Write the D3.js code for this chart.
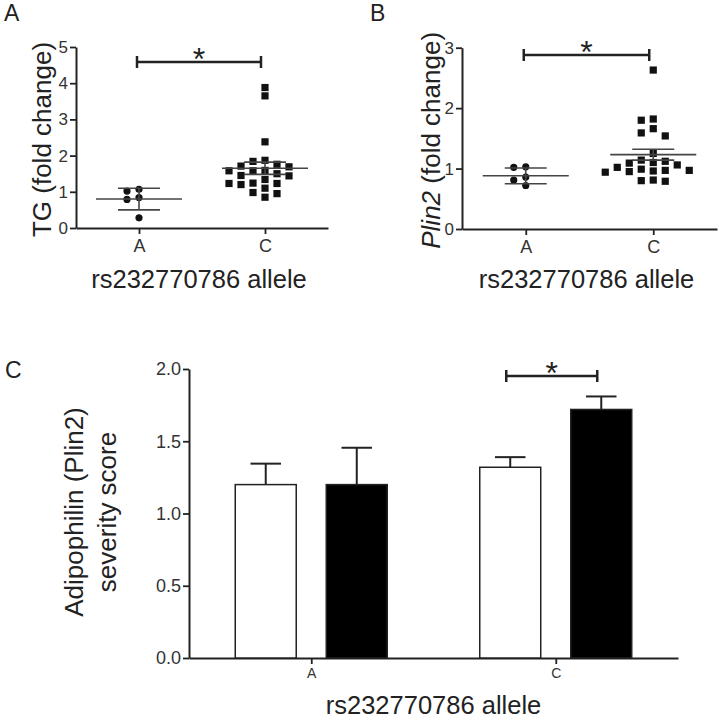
<!DOCTYPE html>
<html>
<head>
<meta charset="utf-8">
<script src="https://cdn.jsdelivr.net/npm/d3@7"></script>
<style>
  body { margin: 0; background: #fff; }
  svg { display: block; font-family: "Liberation Sans", Arial, sans-serif; }
</style>
</head>
<body>
<svg id="chart" width="720" height="718"></svg>
<script>
// Values
const alleles = ["A", "C"];

// Panel A - TG fold change, one value per sample
const tgA = [1.07, 1.02, 0.84, 0.79, 0.28];
const tgC = [3.88, 3.65, 2.38, 1.87, 1.84, 1.76, 1.71, 1.69, 1.59, 1.58, 1.58, 1.50,
             1.45, 1.44, 1.34, 1.24, 1.23, 1.23, 1.20, 1.10, 0.98, 0.95, 0.85];
const tgMean = [0.80, 1.65];
const tgErr = [0.30, 0.17];
const tgTicks = [0, 1, 2, 3, 4, 5];

// Panel B - Plin2 fold change
const plinA = [1.03, 1.02, 0.86, 0.81, 0.72];
const plinC = [2.63, 1.82, 1.80, 1.66, 1.59, 1.54, 1.25, 1.14, 1.12, 1.10, 1.09,
               1.06, 1.02, 0.99, 0.97, 0.97, 0.96, 0.95, 0.94, 0.81, 0.80, 0.79];
const plinMean = [0.88, 1.23];
const plinErr = [0.13, 0.09];
const plinTicks = [0, 1, 2, 3];

// Panel C - adipophilin severity score (open vs filled bars)
const barSeries = ["open", "filled"];
const scoreOpen = [1.20, 1.32];
const scoreFilled = [1.20, 1.72];
const errOpen = [0.145, 0.07];
const errFilled = [0.255, 0.09];
const scoreTicks = [0, 0.5, 1.0, 1.5, 2.0];

const svg = d3.select("#chart");
const ink = "#222";

// greedy beeswarm: push points sideways until they no longer overlap
function swarm(values, y, step, size) {
    const placed = [];
    const pts = values.map(v => ({ v: v, py: y(v) })).sort((a, b) => a.py - b.py);
    const offsets = [0];
    for (let k = 1; k < 12; k++) offsets.push(-k * step / 2, k * step / 2);
    pts.forEach(p => {
        for (const dx of offsets) {
            const hit = placed.some(q => Math.abs(q.py - p.py) < size && Math.abs(q.dx - dx) < step);
            if (!hit) { p.dx = dx; break; }
        }
        placed.push(p);
    });
    return pts;
}

function styleAxis(g, fontSize) {
    g.select(".domain").attr("stroke", ink).attr("stroke-width", 2);
    g.selectAll(".tick line").attr("stroke", ink).attr("stroke-width", 1.8);
    g.selectAll(".tick text").attr("fill", "#333").attr("font-size", fontSize);
}

function bracket(x1, x2, yb) {
    const g = svg.append("g").attr("stroke", ink).attr("stroke-width", 2.5);
    g.append("line").attr("x1", x1).attr("x2", x2).attr("y1", yb).attr("y2", yb);
    g.append("line").attr("x1", x1).attr("x2", x1).attr("y1", yb - 6).attr("y2", yb + 6);
    g.append("line").attr("x1", x2).attr("x2", x2).attr("y1", yb - 6).attr("y2", yb + 6);
    svg.append("text").attr("x", (x1 + x2) / 2).attr("y", yb + 8)
        .attr("text-anchor", "middle").attr("font-size", 32).attr("fill", ink).text("*");
}

function scatterPanel(o) {
    const x = d3.scalePoint().domain(alleles).range([o.left, o.right]).padding(0.5);
    const y = d3.scaleLinear().domain([0, o.max]).range([o.bottom, o.top]);

    svg.append("g").attr("transform", `translate(${o.left},0)`)
        .call(d3.axisLeft(y).tickValues(o.ticks).tickSize(6).tickSizeOuter(0).tickPadding(2).tickFormat(d3.format("d")))
        .call(g => styleAxis(g, 17));
    svg.append("g").attr("transform", `translate(0,${o.bottom})`)
        .call(d3.axisBottom(x).tickSize(6).tickSizeOuter(0).tickPadding(5))
        .call(g => styleAxis(g, 18));

    // points: circles for A, squares for C
    const ptsA = swarm(o.a, y, 12, 8);
    svg.append("g").selectAll("circle").data(ptsA).join("circle")
        .attr("cx", d => x("A") + d.dx).attr("cy", d => d.py).attr("r", 3.6).attr("fill", "#111");
    const ptsC = swarm(o.c, y, 12, 8);
    svg.append("g").selectAll("rect").data(ptsC).join("rect")
        .attr("x", d => x("C") + d.dx - 3.6).attr("y", d => d.py - 3.6)
        .attr("width", 7.2).attr("height", 7.2).attr("fill", "#111");

    // mean and error bars
    const stats = alleles.map((k, i) => ({ k: k, m: o.mean[i], e: o.err[i] }));
    const eg = svg.append("g").attr("stroke", "#444").attr("stroke-width", 1.6);
    stats.forEach(s => {
        const cx = x(s.k);
        eg.append("line").attr("x1", cx - 43).attr("x2", cx + 43).attr("y1", y(s.m)).attr("y2", y(s.m));
        eg.append("line").attr("x1", cx - 21).attr("x2", cx + 21).attr("y1", y(s.m + s.e)).attr("y2", y(s.m + s.e));
        eg.append("line").attr("x1", cx - 21).attr("x2", cx + 21).attr("y1", y(s.m - s.e)).attr("y2", y(s.m - s.e));
        eg.append("line").attr("x1", cx).attr("x2", cx).attr("y1", y(s.m + s.e)).attr("y2", y(s.m - s.e));
    });

    bracket(x("A") - 2, x("C") - 4, o.sigY);

    // titles
    svg.append("text").attr("x", (o.left + o.right) / 2 - 3).attr("y", 288)
        .attr("text-anchor", "middle").attr("font-size", 25.5).attr("fill", ink).text("rs232770786 allele");
    const yt = svg.append("text").attr("transform", `translate(${o.titleX},${(o.top + o.bottom) / 2 + 2}) rotate(-90)`)
        .attr("text-anchor", "middle").attr("dy", "0.35em").attr("font-size", 26).attr("fill", ink);
    o.title.forEach(t => yt.append("tspan").attr("font-style", t.italic ? "italic" : null).text(t.text));
    svg.append("text").attr("x", o.labelX).attr("y", 21).attr("font-size", 23).attr("fill", ink).text(o.label);
}

scatterPanel({
    left: 76, right: 328, top: 47, bottom: 228, max: 5, ticks: tgTicks,
    a: tgA, c: tgC, mean: tgMean, err: tgErr, sigY: 62,
    titleX: 42, title: [{ text: "TG (fold change)" }], label: "A", labelX: 4
});

scatterPanel({
    left: 462, right: 717, top: 47.7, bottom: 229, max: 3, ticks: plinTicks,
    a: plinA, c: plinC, mean: plinMean, err: plinErr, sigY: 55,
    titleX: 431, title: [{ text: "Plin2", italic: true }, { text: " (fold change)" }], label: "B", labelX: 370
});

// Panel C - grouped bars
const cLeft = 189, cRight = 678, cTop = 369, cBottom = 658;
const x0 = d3.scalePoint().domain(alleles).range([cLeft, cRight]).padding(0.5);
const x1 = d3.scaleBand().domain(barSeries).range([-76, 76]).paddingInner(0.33);
const yC = d3.scaleLinear().domain([0, 2]).range([cBottom, cTop]);

svg.append("g").attr("transform", `translate(${cLeft},0)`)
    .call(d3.axisLeft(yC).tickValues(scoreTicks).tickSize(6).tickSizeOuter(0).tickPadding(2).tickFormat(d3.format(".1f")))
    .call(g => styleAxis(g, 18));
svg.append("g").attr("transform", `translate(0,${cBottom})`)
    .call(d3.axisBottom(x0).tickSize(6).tickSizeOuter(0).tickPadding(4))
    .call(g => styleAxis(g, 14));

const bars = [];
alleles.forEach((k, i) => {
    bars.push({ k: k, s: "open", v: scoreOpen[i], e: errOpen[i] });
    bars.push({ k: k, s: "filled", v: scoreFilled[i], e: errFilled[i] });
});
const bx = d => x0(d.k) + x1(d.s);

// error whiskers (upper only) behind the bars
const wg = svg.append("g").attr("stroke", ink).attr("stroke-width", 2);
bars.forEach(d => {
    const cx = bx(d) + x1.bandwidth() / 2;
    wg.append("line").attr("x1", cx).attr("x2", cx).attr("y1", yC(d.v)).attr("y2", yC(d.v + d.e));
    wg.append("line").attr("x1", cx - x1.bandwidth() / 4).attr("x2", cx + x1.bandwidth() / 4)
        .attr("y1", yC(d.v + d.e)).attr("y2", yC(d.v + d.e));
});

svg.append("g").selectAll("rect").data(bars).join("rect")
    .attr("x", bx).attr("width", x1.bandwidth())
    .attr("y", d => yC(d.v)).attr("height", d => cBottom - yC(d.v))
    .attr("fill", d => d.s === "open" ? "#fff" : "#000")
    .attr("stroke", ink).attr("stroke-width", 1.5);

bracket(x0("C") + x1("open") + x1.bandwidth() / 2 - 4, x0("C") + x1("filled") + x1.bandwidth() / 2 - 4, 376);

svg.append("text").attr("x", (cLeft + cRight) / 2).attr("y", 714)
    .attr("text-anchor", "middle").attr("font-size", 25.5).attr("fill", ink).text("rs232770786 allele");
const ytC = svg.append("text").attr("transform", `translate(74,512) rotate(-90)`)
    .attr("text-anchor", "middle").attr("font-size", 26).attr("fill", ink);
ytC.append("tspan").attr("x", 0).attr("dy", "0.35em").text("Adipophilin (Plin2)");
ytC.append("tspan").attr("x", 0).attr("dy", "1.27em").text("severity score");
svg.append("text").attr("x", 5).attr("y", 378).attr("font-size", 23).attr("fill", ink).text("C");
</script>
</body>
</html>
